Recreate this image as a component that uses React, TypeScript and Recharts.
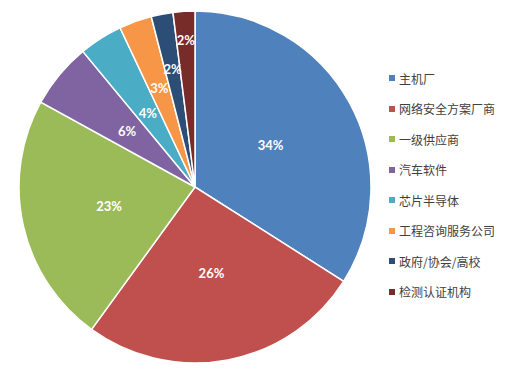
import React from 'react';
import { PieChart, Pie, Cell, Legend } from 'recharts';

const categories = ['主机厂', '网络安全方案厂商', '一级供应商', '汽车软件', '芯片半导体', '工程咨询服务公司', '政府/协会/高校', '检测认证机构'];
const shares = [34, 26, 23, 6, 4, 3, 2, 2];
const colors = ['#4F81BD', '#C0504D', '#9BBB59', '#8064A2', '#4BACC6', '#F79646', '#2C4D75', '#772C2A'];

const data = categories.map((name, i) => ({ name, value: shares[i] }));

const labelRadiusFactor = [0.49, 0.5, 0.5, 0.5, 0.5, 0.6, 0.68, 0.835];
const RAD = Math.PI / 180;

const renderLabel = (props: any) => {
  const { cx, cy, midAngle, outerRadius, index, value } = props;
  const r = outerRadius * labelRadiusFactor[index];
  const x = cx + r * Math.cos(-midAngle * RAD);
  const y = cy + r * Math.sin(-midAngle * RAD);
  return (
    <text x={x} y={y} fill="#ffffff" textAnchor="middle" dominantBaseline="central"
      style={{ fontFamily: 'Lato, "Liberation Sans", sans-serif', fontSize: 13, fontWeight: 700 }}>
      {`${value}%`}
    </text>
  );
};

const LegendContent = () => (
  <div style={{ fontFamily: '"Noto Sans CJK SC", sans-serif', fontSize: 12, color: '#404040' }}>
    {categories.map((c, i) => (
      <div key={c} style={{ display: 'flex', alignItems: 'center', height: 30.5 }}>
        <span style={{ display: 'inline-block', width: 6, height: 6, background: colors[i], marginRight: 4 }} />
        <span>{c}</span>
      </div>
    ))}
  </div>
);

export default function App() {
  return (
    <div style={{ position: 'absolute', left: 0, top: 0, width: 515, height: 371, background: '#fff' }}>
      <PieChart width={515} height={371} margin={{ top: 0, right: 0, bottom: 0, left: 0 }}>
        <Pie
          data={data}
          dataKey="value"
          nameKey="name"
          cx={195}
          cy={187}
          outerRadius={176}
          startAngle={90}
          endAngle={-270}
          stroke="#ffffff"
          strokeWidth={1.5}
          label={renderLabel}
          labelLine={false}
          isAnimationActive={false}
        >
          {data.map((d, i) => (
            <Cell key={d.name} fill={colors[i]} />
          ))}
        </Pie>
        <Legend
          layout="vertical"
          content={<LegendContent />}
          wrapperStyle={{ left: 389, top: 63, width: 126 }}
        />
      </PieChart>
    </div>
  );
}
